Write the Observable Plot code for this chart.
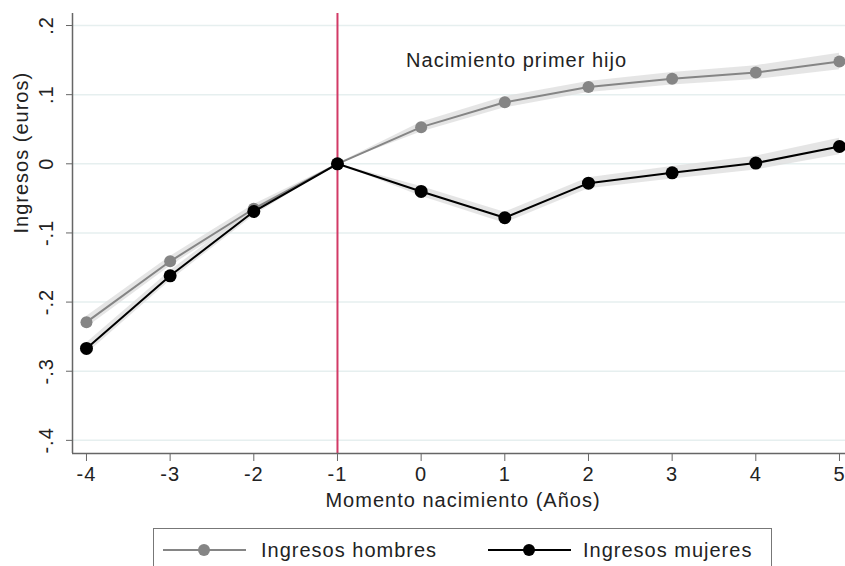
<!DOCTYPE html>
<html>
<head>
<meta charset="utf-8">
<script src="https://cdn.jsdelivr.net/npm/d3@7"></script>
<script src="https://cdn.jsdelivr.net/npm/@observablehq/plot@0.6"></script>
<style>
  html, body { margin: 0; padding: 0; background: #fff; }
  #wrap { position: relative; width: 845px; height: 566px; overflow: hidden; font-family: "Liberation Sans", Arial, sans-serif; }
  #legend { position: absolute; left: 153px; top: 528px; width: 619px; height: 60px; border: 1px solid #777; box-sizing: border-box; background: #fff; }
  .item { position: absolute; top: 9px; height: 26px; }
  .sw { position: absolute; top: 11px; height: 2px; width: 83px; }
  .dot { position: absolute; top: 6px; width: 12px; height: 12px; border-radius: 50%; left: 35px; }
  .lbl { position: absolute; top: -1px; font-size: 20px; letter-spacing: 1px; line-height: 26px; color: #222; white-space: nowrap; }
</style>
</head>
<body>
<div id="wrap">
  <div id="chart"></div>
  <div id="legend"></div>
</div>
<script>
// Event-study estimates around the birth of the first child (t = -1 is the reference year)
const years = [-4, -3, -2, -1, 0, 1, 2, 3, 4, 5];
const hombres = [-0.229, -0.141, -0.065, 0, 0.053, 0.089, 0.111, 0.123, 0.132, 0.148];
const mujeres = [-0.267, -0.162, -0.069, 0, -0.040, -0.078, -0.028, -0.013, 0.001, 0.025];
// half-width of the confidence band for each estimate
const hombresCI = [0.008, 0.007, 0.006, 0, 0.007, 0.008, 0.008, 0.009, 0.010, 0.012];
const mujeresCI = [0.008, 0.007, 0.006, 0, 0.007, 0.008, 0.008, 0.009, 0.010, 0.012];

const xTicks = [-4, -3, -2, -1, 0, 1, 2, 3, 4, 5];
const xTickLabels = ["-4", "-3", "-2", "-1", "0", "1", "2", "3", "4", "5"];
const yTicks = [0.2, 0.1, 0, -0.1, -0.2, -0.3, -0.4];
const yTickLabels = [".2", ".1", "0", "-.1", "-.2", "-.3", "-.4"];

const seriesNames = ["Ingresos hombres", "Ingresos mujeres"];
const seriesColors = ["#858585", "#000000"];
const eventYear = -1;
const eventLabel = "Nacimiento primer hijo";
const eventLabelPos = { x: -0.18, y: 0.149 };
const xTitle = "Momento nacimiento (Años)";
const yTitle = "Ingresos (euros)";

const xDomain = [-4.167, 5.072];
const yDomain = [-0.419, 0.2174];

const rows = years.map((t, i) => ({
  t,
  h: hombres[i], hLo: hombres[i] - hombresCI[i], hHi: hombres[i] + hombresCI[i],
  m: mujeres[i], mLo: mujeres[i] - mujeresCI[i], mHi: mujeres[i] + mujeresCI[i]
}));

const xLabelMap = new Map(xTicks.map((v, i) => [v, xTickLabels[i]]));
const yLabelRows = yTicks.map((v, i) => ({ v, label: yTickLabels[i] }));

const font = "'Liberation Sans', Arial, sans-serif";
const fs = 20;

const chart = Plot.plot({
  width: 845,
  height: 520,
  marginLeft: 72,
  marginRight: 0,
  marginTop: 13,
  marginBottom: 67,
  style: { fontFamily: font, background: "#fff", overflow: "visible", letterSpacing: "1px" },
  x: { domain: xDomain },
  y: { domain: yDomain },
  marks: [
    // horizontal grid
    Plot.ruleY(yTicks, { stroke: "#e6efef", strokeWidth: 1.5 }),
    // confidence bands
    Plot.areaY(rows, { x: "t", y1: "hLo", y2: "hHi", fill: "#dcdcdc", fillOpacity: 0.75 }),
    Plot.areaY(rows, { x: "t", y1: "mLo", y2: "mHi", fill: "#dcdcdc", fillOpacity: 0.75 }),
    // birth marker
    Plot.ruleX([eventYear], { stroke: "#d23a66", strokeWidth: 2 }),
    // men
    Plot.line(rows, { x: "t", y: "h", stroke: seriesColors[0], strokeWidth: 2 }),
    Plot.dot(rows, { x: "t", y: "h", r: 6, fill: seriesColors[0], stroke: "none" }),
    // women
    Plot.line(rows, { x: "t", y: "m", stroke: seriesColors[1], strokeWidth: 2 }),
    Plot.dot(rows, { x: "t", y: "m", r: 6.5, fill: seriesColors[1], stroke: "none" }),
    // annotation
    Plot.text([eventLabel], { x: eventLabelPos.x, y: eventLabelPos.y, text: d => d, textAnchor: "start", fontSize: fs, fill: "#222" }),
    // axis lines
    Plot.ruleX([xDomain[0]], { stroke: "#666", strokeWidth: 1.5 }),
    Plot.ruleY([yDomain[0]], { stroke: "#666", strokeWidth: 1.5 }),
    // x axis ticks and labels
    Plot.axisX({ ticks: xTicks, tickSize: 8, tickPadding: 5, tickFormat: d => xLabelMap.get(d), fontSize: fs, stroke: "#666", fill: "#222", label: null }),
    // y axis ticks with rotated labels
    Plot.axisY({ ticks: yTicks, tickSize: 6, tickFormat: () => "", stroke: "#666", label: null }),
    Plot.text(yLabelRows, { y: "v", text: "label", frameAnchor: "left", dx: -26, rotate: -90, textAnchor: "middle", lineAnchor: "middle", fontSize: fs, fill: "#222" }),
    // axis titles
    Plot.text([xTitle], { text: d => d, frameAnchor: "bottom", dy: 53, dx: 4, fontSize: fs, fill: "#222" }),
    Plot.text([yTitle], { text: d => d, frameAnchor: "left", dx: -51, rotate: -90, fontSize: fs, fill: "#222" })
  ]
});
document.getElementById("chart").appendChild(chart);

// legend below the plot
const legend = document.getElementById("legend");
const itemLefts = [9, 334];
const labelLefts = [107, 429];
seriesNames.forEach((name, i) => {
  const item = document.createElement("div");
  item.className = "item";
  item.style.left = itemLefts[i] + "px";
  item.style.width = "300px";
  const sw = document.createElement("div");
  sw.className = "sw";
  sw.style.background = seriesColors[i];
  const dot = document.createElement("div");
  dot.className = "dot";
  dot.style.background = seriesColors[i];
  const lbl = document.createElement("div");
  lbl.className = "lbl";
  lbl.style.left = (labelLefts[i] - itemLefts[i]) + "px";
  lbl.textContent = name;
  item.appendChild(sw);
  item.appendChild(dot);
  item.appendChild(lbl);
  legend.appendChild(item);
});
</script>
</body>
</html>
